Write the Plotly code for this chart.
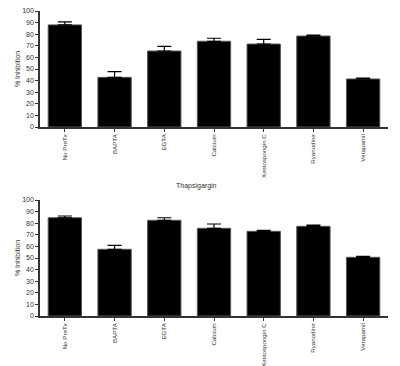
import plotly.graph_objects as go

categories = ["No PreTx", "BAPTA", "EGTA", "Calcium", "Xestospongin C", "Ryanodine", "Verapamil"]
top_values = [88, 42.8, 65.5, 73.9, 71.5, 78.4, 41.4]
top_errors = [2.6, 4.9, 4.0, 2.6, 4.1, 0.9, 0.8]
bottom_values = [84.7, 57.5, 82.5, 75.6, 73.0, 77.3, 50.6]
bottom_errors = [1.5, 3.4, 2.2, 3.7, 0.9, 1.1, 0.8]
bottom_title = "Thapsigargin"
y_title = "% Inhibition"
y_ticks = [0, 10, 20, 30, 40, 50, 60, 70, 80, 90, 100]

W, H = 400, 366
FONT = "Liberation Sans, Arial, sans-serif"
AX = "#333333"
TXT = "#333333"

fig = go.Figure()

def add_bars(vals, errs, xa, ya):
    fig.add_trace(go.Bar(
        x=categories, y=vals, xaxis=xa, yaxis=ya,
        marker=dict(color="black", line=dict(color="#555555", width=1)),
        error_y=dict(type="data", array=errs, symmetric=False, arrayminus=[0]*len(errs),
                     color="black", thickness=1.2, width=7),
        showlegend=False, hoverinfo="skip",
    ))

add_bars(top_values, top_errors, "x", "y")
add_bars(bottom_values, bottom_errors, "x2", "y2")

xd = [40 / W, 388 / W]
common_x = dict(range=[-0.5, 6.5], showline=True, linecolor=AX, linewidth=1.5,
                ticks="outside", ticklen=3, tickcolor=AX, tickangle=-90,
                tickfont=dict(family=FONT, size=6.2, color=TXT), showgrid=False,
                zeroline=False, domain=xd, automargin=False)
common_y = dict(range=[0, 100], tickvals=y_ticks, showline=True, linecolor=AX, linewidth=1.5,
                ticks="outside", ticklen=3, tickcolor=AX,
                tickfont=dict(family=FONT, size=7, color=TXT), showgrid=False,
                zeroline=False, automargin=False,
                title=dict(text=y_title, font=dict(family=FONT, size=7, color=TXT), standoff=1))

fig.update_layout(
    template="none",
    autosize=False,
    width=W, height=H, margin=dict(l=0, r=0, t=0, b=0, pad=0, autoexpand=False),
    font=dict(family=FONT, color=TXT),
    paper_bgcolor="white", plot_bgcolor="white", bargap=0.33,
    xaxis=dict(**common_x, anchor="y"),
    yaxis=dict(**common_y, anchor="x", domain=[1 - 127 / H, 1 - 11 / H]),
    xaxis2=dict(**common_x, anchor="y2"),
    yaxis2=dict(**common_y, anchor="x2", domain=[1 - 316 / H, 1 - 200 / H]),
    annotations=[dict(text=bottom_title, x=196 / W, y=1 - 186 / H, xref="paper", yref="paper",
                      showarrow=False, font=dict(family=FONT, size=7, color=TXT))],
)

fig.write_html("out.html", config={"displayModeBar": False},
               post_script="document.body.style.margin='0';document.body.style.padding='0';")
